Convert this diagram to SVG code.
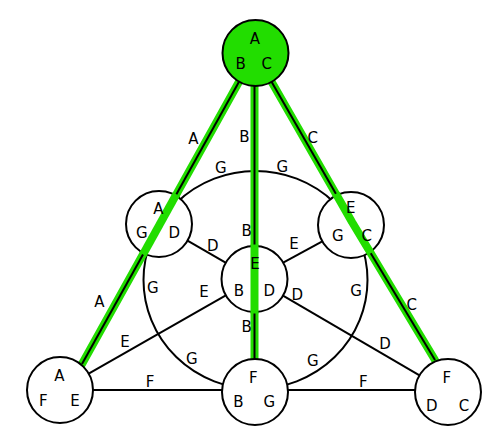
<svg xmlns="http://www.w3.org/2000/svg" width="502" height="444" viewBox="0 0 502 444">
<style>
.bg{fill:#fff}
.nd{fill:#fff;stroke:#000;stroke-width:2}
.top{fill:#22dd00;stroke:#000;stroke-width:2}
.e{fill:none;stroke:#000;stroke-width:2}
.hl{fill:none;stroke:#22dd00;stroke-width:8;stroke-linecap:round;stroke-linejoin:round}
.hp{fill:none;stroke:#22dd00;stroke-width:8;stroke-linecap:butt;stroke-linejoin:round}
text{font-family:"DejaVu Sans","Liberation Sans",sans-serif;font-size:15px;text-anchor:middle;fill:#000}
</style>
<rect class="bg" width="502" height="444"/>
<g id="connectors">
  <ellipse class="e" cx="255.5" cy="280" rx="112" ry="109"/>
  <path class="hl" d="M239,81.8 L82,364"/>
  <path class="hl" d="M254.5,86 L254.5,359"/>
  <path class="hl" d="M271.4,81.6 L352,222 L435,360"/>
  <path class="e" d="M239,81.8 L175.7,195.6"/>
  <path class="e" d="M143.7,253.2 L82,364"/>
  <path class="e" d="M254.5,86 L254.5,246"/>
  <path class="e" d="M254.5,312 L254.5,359"/>
  <path class="e" d="M271.4,81.6 L336.6,195.1"/>
  <path class="e" d="M370,252 L435,360"/>
  <path class="e" d="M187.5,240.6 L226,262.9"/>
  <path class="e" d="M283,295.6 L419.5,375.4"/>
  <path class="e" d="M88.7,373.7 L225.8,295.3"/>
  <path class="e" d="M283.2,262.7 L322.3,241.3"/>
  <path class="e" d="M93,390 L222,390"/>
  <path class="e" d="M288,390 L415,390"/>
  <text x="193.3" y="144">A</text>
  <text x="244.3" y="141.7">B</text>
  <text x="312.7" y="142.7">C</text>
  <text x="220.7" y="173.3">G</text>
  <text x="282.3" y="172.3">G</text>
  <text x="246.7" y="236">B</text>
  <text x="212.7" y="250.7">D</text>
  <text x="294" y="249">E</text>
  <text x="152.7" y="292.7">G</text>
  <text x="204" y="296.7">E</text>
  <text x="99.3" y="306.7">A</text>
  <text x="356" y="296">G</text>
  <text x="297.3" y="300">D</text>
  <text x="411.7" y="310">C</text>
  <text x="246.7" y="331.7">B</text>
  <text x="125" y="346.7">E</text>
  <text x="385" y="349">D</text>
  <text x="191.7" y="364.3">G</text>
  <text x="312.7" y="366">G</text>
  <text x="150" y="386.7">F</text>
  <text x="363.3" y="386.7">F</text>
</g>
<g id="node-ABC">
  <circle class="top" cx="255.5" cy="53" r="33"/>
  <text x="255" y="43.5">A</text>
  <text x="240.7" y="69">B</text>
  <text x="266.7" y="69">C</text>
</g>
<g id="node-AGD">
  <circle class="nd" cx="159" cy="224" r="33"/>
  <path class="hp" d="M176.4,194.3 L143,254.5"/>
  <text x="158.3" y="214.3">A</text>
  <text x="141.7" y="238.3">G</text>
  <text x="174.3" y="238.3">D</text>
</g>
<g id="node-EGC">
  <circle class="nd" cx="351" cy="225" r="33"/>
  <path class="hp" d="M335.9,193.8 L352,222 L370.8,253.3"/>
  <text x="350.7" y="213.3">E</text>
  <text x="337.7" y="240.7">G</text>
  <text x="366.7" y="240.7">C</text>
</g>
<g id="node-EBD">
  <circle class="nd" cx="254.5" cy="279" r="33"/>
  <path class="hp" d="M254.5,244.5 L254.5,313.5"/>
  <text x="255" y="269.3">E</text>
  <text x="239" y="296">B</text>
  <text x="269.3" y="296">D</text>
</g>
<g id="node-AFE">
  <circle class="nd" cx="60" cy="390" r="33"/>
  <text x="59.3" y="380.7">A</text>
  <text x="43.3" y="406">F</text>
  <text x="75" y="406">E</text>
</g>
<g id="node-FBG">
  <circle class="nd" cx="255" cy="392" r="33"/>
  <text x="253.3" y="382.7">F</text>
  <text x="238.3" y="406.7">B</text>
  <text x="269.3" y="406.7">G</text>
</g>
<g id="node-FDC">
  <circle class="nd" cx="448" cy="392" r="33"/>
  <text x="446.7" y="382.7">F</text>
  <text x="431.7" y="410.7">D</text>
  <text x="464" y="410.7">C</text>
</g>
</svg>
